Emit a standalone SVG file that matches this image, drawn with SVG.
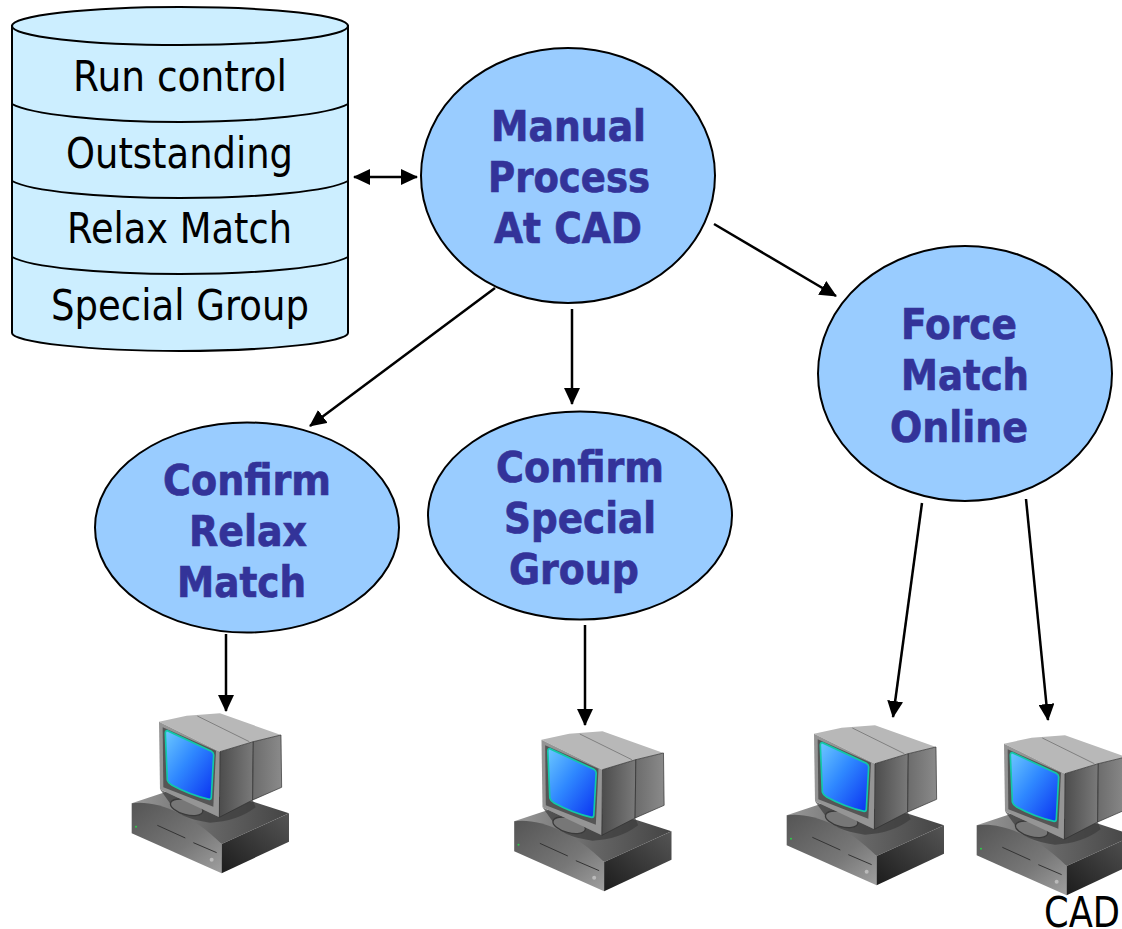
<svg xmlns="http://www.w3.org/2000/svg" width="1122" height="929" viewBox="0 0 1122 929">
<style>
.e{fill:#99ccff;stroke:#000;stroke-width:2}
.t{font-family:"DejaVu Sans",Verdana,sans-serif;font-size:42px;fill:#000}
.b{font-family:"DejaVu Sans",Verdana,sans-serif;font-size:42px;font-weight:bold;fill:#333399;stroke:#333399;stroke-width:.7}
.c{fill:none;stroke:#000;stroke-width:2}
.l{fill:none;stroke:#000;stroke-width:2.5}
</style>
<defs>
<marker id="a" markerUnits="userSpaceOnUse" markerWidth="18" markerHeight="16" refX="16" refY="8" orient="auto-start-reverse"><path d="M0 0L17 8L0 16Z" fill="#000"/></marker>
<linearGradient id="sc" x1="0" y1="0" x2="1" y2="1"><stop offset="0" stop-color="#6cc8ff"/><stop offset=".45" stop-color="#2f88ff"/><stop offset="1" stop-color="#0a30f0"/></linearGradient>
<linearGradient id="sd" x1="0" y1="0" x2="1" y2="0"><stop offset="0" stop-color="#4c4c4c"/><stop offset="1" stop-color="#7a7a7a"/></linearGradient>
<linearGradient id="sd2" x1="0" y1="0" x2="1" y2="0"><stop offset="0" stop-color="#6c6c6c"/><stop offset="1" stop-color="#8a8a8a"/></linearGradient>
<linearGradient id="bf" x1="0" y1="0" x2="1" y2="1"><stop offset="0" stop-color="#555"/><stop offset=".6" stop-color="#777"/><stop offset="1" stop-color="#a0a0a0"/></linearGradient>
<linearGradient id="bt" x1="0" y1="0" x2="1" y2="0"><stop offset="0" stop-color="#9a9a9a"/><stop offset=".5" stop-color="#666"/><stop offset="1" stop-color="#444"/></linearGradient>
<linearGradient id="br" x1="0" y1="1" x2="1" y2="0"><stop offset="0" stop-color="#1c1c1c"/><stop offset="1" stop-color="#555"/></linearGradient>
<g id="pc" transform="scale(.3333)">
<path d="M65 310L185 270L430 305L537 340L335 432Z" fill="url(#bt)"/>
<path d="M65 310C140 300 240 340 335 432L335 520L65 400Z" fill="url(#bf)"/>
<path d="M335 432L537 340L537 425L335 520Z" fill="url(#br)"/>
<path d="M180 310Q200 355 300 368Q380 365 437 322L428 300L328 352L150 268Z" fill="#3c3c3c" opacity=".7"/>
<ellipse cx="230" cy="322" rx="50" ry="22" fill="#777" stroke="#3a3a3a" stroke-width="4" transform="rotate(15 230 322)"/>
<path d="M147 65L230 47L330 40L513 105L430 125L330 155Z" fill="#b8b8b8"/>
<path d="M262 48L418 125" stroke="#808080" stroke-width="3" fill="none"/>
<path d="M147 65L330 155L328 352L150 268Z" fill="#959595"/>
<path d="M158 82L318 152L310 320L160 262Z" fill="#555"/>
<path d="M172 92Q166 91 166 100L172 240Q175 250 185 255Q240 285 298 298Q304 298 304 290L311 165Q311 158 304 154Z" fill="url(#sc)" stroke="#12c8a8" stroke-width="5"/>
<path d="M330 155L430 125L428 300L328 352Z" fill="url(#sd)" stroke="#2a2a2a" stroke-width="2"/>
<path d="M430 125L513 105L515 262L428 300Z" fill="url(#sd2)" stroke="#2a2a2a" stroke-width="2"/>
<path d="M142 376L226 414M250 428L320 458" stroke="#333" stroke-width="3" fill="none"/>
<circle cx="78" cy="380" r="3" fill="#2dcc4a"/>
<circle cx="305" cy="479" r="6" fill="#bbb"/>
</g>
</defs>
<g id="database">
<path d="M12 26V333C12 342 90 351 180 351S348 342 348 333V26Z" fill="#cceeff" stroke="#000" stroke-width="2"/>
<ellipse cx="180" cy="26" rx="168" ry="19" fill="#cceeff" stroke="#000" stroke-width="2"/>
<path class="c" d="M12 104C30 114 100 122 180 122S330 114 348 104M12 181C30 191 100 198 180 198S330 191 348 181M12 257C30 267 100 274 180 274S330 267 348 257"/>
<text class="t" x="73" y="91" textLength="214" lengthAdjust="spacingAndGlyphs">Run control</text>
<text class="t" x="66" y="168" textLength="227" lengthAdjust="spacingAndGlyphs">Outstanding</text>
<text class="t" x="67" y="243" textLength="225" lengthAdjust="spacingAndGlyphs">Relax Match</text>
<text class="t" x="51" y="320" textLength="258" lengthAdjust="spacingAndGlyphs">Special Group</text>
</g>
<g id="manual">
<ellipse class="e" cx="568" cy="175.500" rx="147" ry="127.500"/>
<text class="b" x="491" y="141" textLength="155" lengthAdjust="spacingAndGlyphs">Manual</text>
<text class="b" x="488" y="192" textLength="162" lengthAdjust="spacingAndGlyphs">Process</text>
<text class="b" x="494" y="243" textLength="148" lengthAdjust="spacingAndGlyphs">At CAD</text>
</g>
<g id="force">
<ellipse class="e" cx="965" cy="373.500" rx="147" ry="127.500"/>
<text class="b" x="901" y="339" textLength="116" lengthAdjust="spacingAndGlyphs">Force</text>
<text class="b" x="901" y="390" textLength="128" lengthAdjust="spacingAndGlyphs">Match</text>
<text class="b" x="890" y="442" textLength="138" lengthAdjust="spacingAndGlyphs">Online</text>
</g>
<g id="relax">
<ellipse class="e" cx="247" cy="527.500" rx="152" ry="105"/>
<text class="b" x="163" y="495" textLength="168" lengthAdjust="spacingAndGlyphs">Confirm</text>
<text class="b" x="189" y="546" textLength="118" lengthAdjust="spacingAndGlyphs">Relax</text>
<text class="b" x="177" y="597" textLength="129" lengthAdjust="spacingAndGlyphs">Match</text>
</g>
<g id="special">
<ellipse class="e" cx="580" cy="515.500" rx="152" ry="104"/>
<text class="b" x="496" y="482" textLength="168" lengthAdjust="spacingAndGlyphs">Confirm</text>
<text class="b" x="504" y="533" textLength="152" lengthAdjust="spacingAndGlyphs">Special</text>
<text class="b" x="509" y="584" textLength="130" lengthAdjust="spacingAndGlyphs">Group</text>
</g>
<g id="pc1" transform="translate(110,700)"><use href="#pc"/></g>
<g id="pc2" transform="translate(492.500,718)"><use href="#pc"/></g>
<g id="pc3" transform="translate(765,712)"><use href="#pc"/></g>
<g id="pc4" transform="translate(955,722)"><use href="#pc"/></g>
<text id="cad" class="t" x="1044" y="927" textLength="76" lengthAdjust="spacingAndGlyphs">CAD</text>
<g id="connectors">
<path class="l" d="M354 177H417" marker-start="url(#a)" marker-end="url(#a)"/>
<path class="l" d="M495 288L310 426" marker-end="url(#a)"/>
<path class="l" d="M572 309V404" marker-end="url(#a)"/>
<path class="l" d="M714 224L836 296" marker-end="url(#a)"/>
<path class="l" d="M226 634V711" marker-end="url(#a)"/>
<path class="l" d="M585 625V725" marker-end="url(#a)"/>
<path class="l" d="M922 503L893 717" marker-end="url(#a)"/>
<path class="l" d="M1026 499L1048 720" marker-end="url(#a)"/>
</g>
</svg>
